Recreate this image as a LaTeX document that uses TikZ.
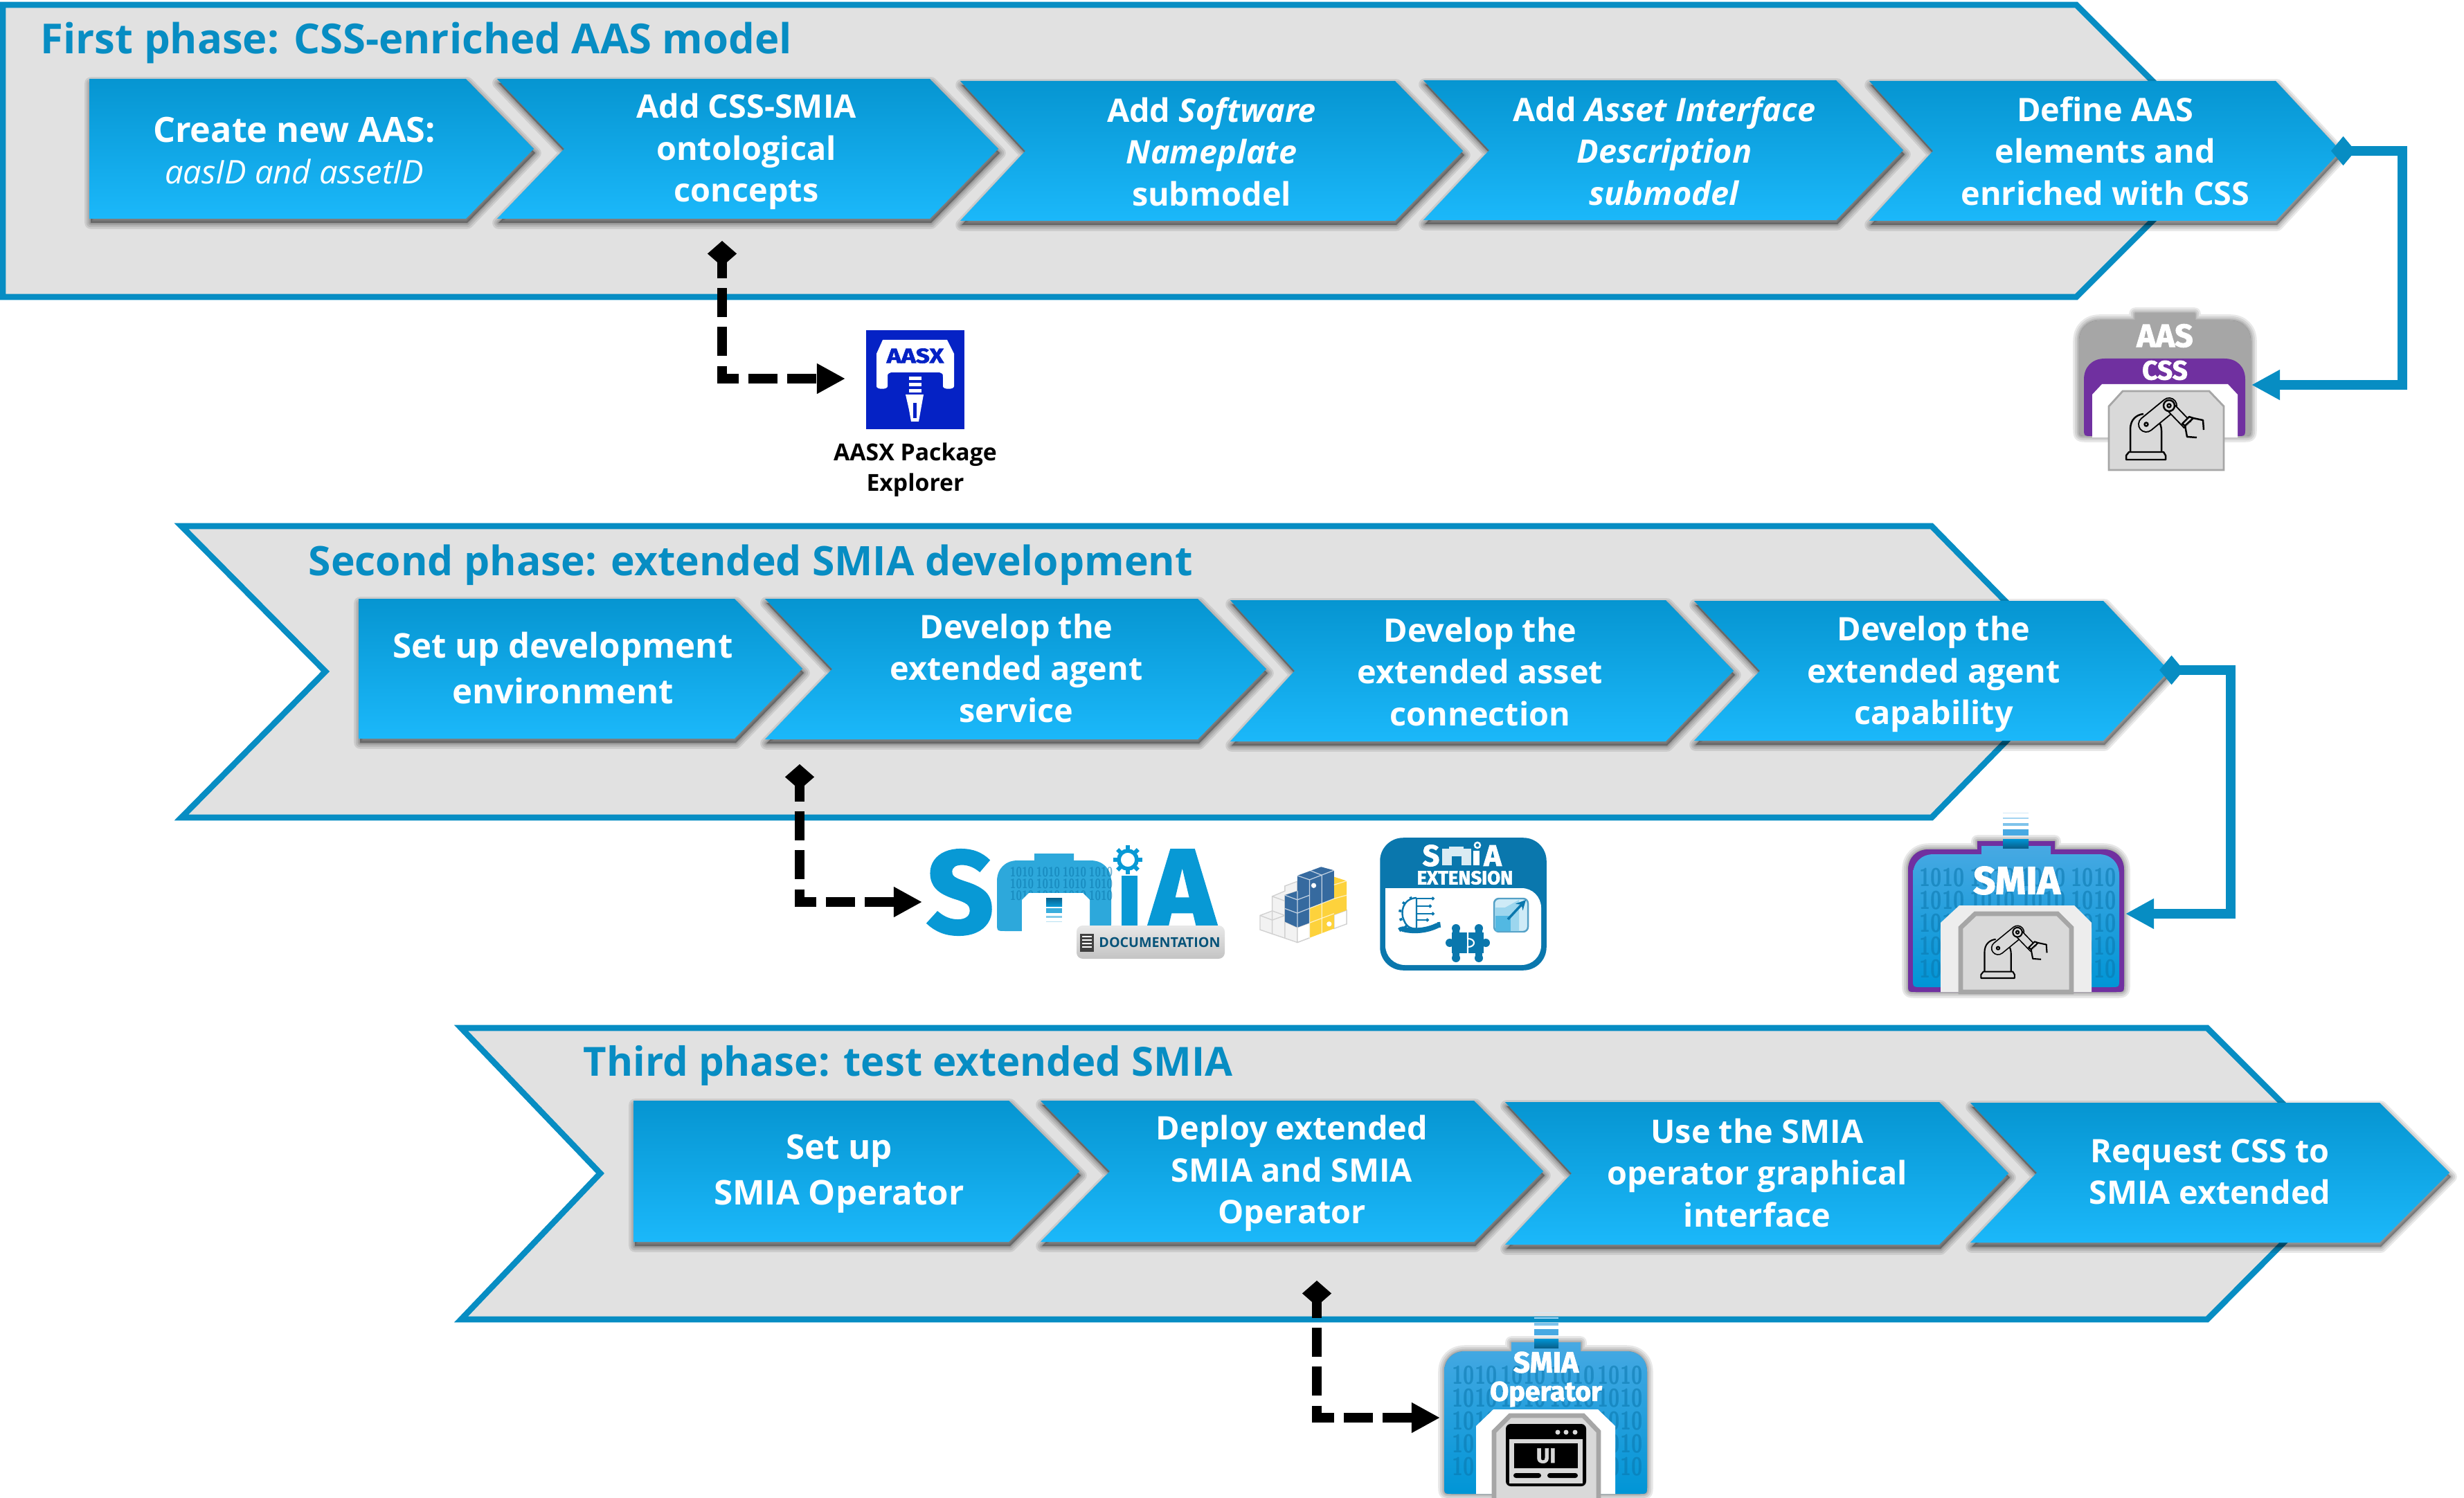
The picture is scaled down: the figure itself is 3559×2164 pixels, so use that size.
\documentclass[tikz,border=0pt]{standalone}
\usepackage{fontspec}
\usepackage{xcolor}
\setmainfont{Open Sans}
\newfontfamily\heavyfont{Fira Sans}[BoldFeatures={FakeBold=2}]
\usetikzlibrary{arrows.meta}

\definecolor{bandblue}{HTML}{078DC3}
\definecolor{phasegray}{HTML}{E1E1E1}
\definecolor{steptop}{HTML}{0695D1}
\definecolor{stepmid}{HTML}{07A6E6}
\definecolor{stepbot}{HTML}{1BB8FA}
\definecolor{cardtop}{HTML}{47A9E3}
\definecolor{cardbot}{HTML}{0095D6}
\definecolor{purplecss}{HTML}{7030A0}
\definecolor{chipgray}{HTML}{D9D9D9}
\definecolor{chipline}{HTML}{A6A6A6}
\definecolor{logoblue}{HTML}{0899D5}
\definecolor{extblue}{HTML}{0A77AD}
\definecolor{aasxblue}{HTML}{0522C5}
\definecolor{pyblue}{HTML}{366A9F}
\definecolor{pyyellow}{HTML}{FDD23C}

\tikzset{
  phaseband/.style={draw=bandblue,fill=phasegray,line width=2.45pt,miter limit=8},
  phasetitle/.style={text=bandblue,font=\fontsize{16.7}{20}\selectfont\bfseries,anchor=west,inner sep=0pt},
  steptext/.style={text=white,font=\fontsize{13.3}{17.2}\selectfont\bfseries,align=center,inner sep=0pt},
  flowlink/.style={draw=bandblue,line width=4pt,{Diamond[length=10pt,width=12pt]}-{Triangle[length=11.7pt,width=11.7pt]}},
  toollink/.style={draw=black,line width=4pt,dash pattern=on 12pt off 4pt,dash phase=4.5pt,{Diamond[length=10.5pt,width=12pt]}-{Triangle[length=11.7pt,width=11.7pt]}},
  bits/.style={text=extblue,text opacity=.55,font=\sffamily\bfseries\fontsize{10.5}{12}\selectfont,inner sep=0pt,xscale=.8,transform shape},
  cardtext/.style={text=white,font=\heavyfont\bfseries,inner sep=0pt},
}

% blurred shadow from stacked strokes
\newcommand{\softshadow}[3]{%
  \foreach \w in {5,3.5,2,1}{%
    \draw[black,fill=black,opacity=.09,line width=\w pt,line join=round,shift={(#1,#2)}] #3;
  }%
}
% start, notch, shoulder, tip, top, bottom
\newcommand{\stepblock}[6]{%
  \def\blockpath{(#1,#5) -- (#3,#5) -- (#4,{(#5+#6)/2}) -- (#3,#6) -- (#1,#6) -- (#2,{(#5+#6)/2}) -- cycle}%
  \softshadow{2}{6}{\blockpath}%
  \shade[top color=steptop,middle color=stepmid,bottom color=stepbot] \blockpath;
}
% left, top, right, bottom, tab left, tab right, tab top
\newcommand{\cardpath}[7]{({#1},{#2+30}) .. controls ({#1},{#2+12}) and ({#1+12},{#2}) .. ({#1+30},{#2}) -- (#5,#2) -- (#5,#7) -- (#6,#7) -- (#6,#2) -- ({#3-30},{#2}) .. controls ({#3-12},{#2}) and ({#3},{#2+12}) .. ({#3},{#2+30}) -- ({#3},{#4-12}) .. controls ({#3},{#4}) .. ({#3-12},{#4}) -- ({#1+12},{#4}) .. controls ({#1},{#4}) .. ({#1},{#4-12}) -- cycle}
% x, y of the foot, size
\newcommand{\robotarm}[3]{%
  \begin{scope}[shift={(#1,#2)},scale=#3,line width=#3*.7pt,line join=round]
    \draw[fill=chipgray] (-29,0) -- (-29,-6) -- (-25,-11) -- (25,-11) -- (28,-6) -- (28,0) -- cycle;
    \draw (-23,-11) -- (-23,-44) .. controls (-23,-58) and (-14,-65) .. (-4,-66);
    \draw (22,-11) -- (22,-42) .. controls (22,-48) and (20,-52) .. (18,-56);
    \draw[line width=#3*24pt*.2845,line cap=round] (0,-51) -- (33,-78);
    \draw[chipgray,line width=#3*20pt*.2845,line cap=round] (0,-51) -- (33,-78);
    \draw[line width=#3*15pt*.2845] (33,-78) -- (60,-50);
    \draw[chipgray,line width=#3*11pt*.2845] (33,-78) -- (60,-50);
    \draw[fill=chipgray] (33,-78) circle (8);
    \draw (33,-78) circle (2.5);
    \draw (0,-51) circle (2.5);
    \draw[fill=chipgray] (56,-49) -- (68,-60) -- (62,-62) -- (52,-52) -- cycle;
    \draw (56,-49) -- (59,-33) -- (73,-32);
    \draw (68,-60) -- (82,-57) -- (83,-43);
  \end{scope}
}
% bits of the SMIA card: columns, first row
\newcommand{\cardbits}[5]{%
  \foreach \r in {0,1,2,3,4}{%
    \foreach \c in {#1,#2,#3,#4}{%
      \node[bits] at (\c,{#5+\r*33}) {1010};
    }
  }
}
\newcommand{\cardstripes}[3]{%
  \shade[top color=cardbot,bottom color=extblue!80!black] (#1,{#3-13}) rectangle (#2,#3);
  \fill[cardtop] (#1,{#3-27}) rectangle (#2,{#3-18});
  \fill[cardtop!70!white] (#1,{#3-36}) rectangle (#2,{#3-32});
  \fill[cardtop!50!white] (#1,{#3-44}) rectangle (#2,{#3-42});
  \fill[cardtop!25!white] (#1,{#3-51}) rectangle (#2,{#3-50});
}

\begin{document}
\begin{tikzpicture}[x=0.01cm,y=-0.01cm]
\useasboundingbox (0,0) rectangle (3559,2164);

% phase one
\draw[phaseband] (4,7) -- (2999,7) -- (3210,218) -- (2999,429) -- (4,429) -- cycle;
\node[phasetitle,font=\fontsize{17}{20}\selectfont\bfseries] (titleone) at (58,62) {First phase: CSS-enriched AAS model};
\stepblock{129}{129}{673}{771}{114}{316}
\stepblock{718}{815}{1343}{1442}{114}{316}
\stepblock{1387}{1481}{2015}{2113}{117}{319}
\stepblock{2056}{2151}{2652}{2749}{116}{318}
\stepblock{2700}{2792}{3287}{3381}{117}{319}
\node[steptext,font=\fontsize{14.3}{17}\selectfont\bfseries] (newaas) at (425,188) {Create new AAS:};
\node[steptext,font=\fontsize{13.4}{15}\selectfont\itshape] (newids) at (425,248) {aasID and assetID};
\node[steptext] (addcss) at (1078,219) {Add CSS-SMIA\\ontological\\concepts};
\node[steptext] (addname) at (1750,219) {Add \textit{Software}\\\textit{Nameplate}\\submodel};
\node[steptext] (addasset) at (2404,218) {Add \textit{Asset Interface}\\\textit{Description}\\\textit{submodel}};
\node[steptext] (definecss) at (3041,218) {Define AAS\\elements and\\enriched with CSS};
\coordinate (defineout) at (3367,218);
\coordinate (aasturn) at (3470,556);
\coordinate (aasin) at (3252,556);
\coordinate (cssout) at (1043,348);
\coordinate (aasxin) at (1221,547);

% AASX tool
\fill[aasxblue] (1251,477) rectangle (1393,620);
\fill[white] (1275,491) -- (1368,491) -- (1378,511) -- (1378,558) .. controls (1378,563) and (1362,563) .. (1362,558) -- (1362,545) .. controls (1362,540) .. (1357,538) -- (1287,538) .. controls (1282,540) .. (1282,545) -- (1282,558) .. controls (1282,563) and (1266,563) .. (1266,558) -- (1266,511) -- cycle;
\node[text=aasxblue,font=\heavyfont\bfseries\fontsize{8.4}{10}\selectfont,inner sep=0pt,xscale=1.2,transform shape] (aasxmark) at (1322,514) {AASX};
\foreach \y in {544,553,562}{
  \fill[white] (1313,\y) rectangle (1331,{\y+5});
}
\fill[white] (1308,570) -- (1334,570) -- (1330,592) -- (1327,609) -- (1316,609) -- (1313,592) -- cycle;
\fill[aasxblue] (1319,582) rectangle (1324,604);
\node[font=\fontsize{9.6}{12.6}\selectfont\bfseries,align=center,inner sep=0pt] (aasxlabel) at (1322,679) {AASX Package\\Explorer};

% CSS enriched AAS
\softshadow{0}{0}{\cardpath{3003}{463}{3251}{630}{3084}{3170}{453}}
\fill[chipline] \cardpath{3003}{463}{3251}{630}{3084}{3170}{453};
\fill[purplecss] \cardpath{3010}{518}{3243}{630}{3100}{3153}{518};
\fill[white] (3022,632) -- (3022,570) -- (3036,555) -- (3218,555) -- (3232,570) -- (3232,632) -- cycle;
\draw[fill=chipgray,draw=chipline,line width=.8pt] (3046,679) -- (3046,587) -- (3066,565) -- (3191,565) -- (3212,587) -- (3212,679) -- cycle;
\robotarm{3100}{664}{1}
\node[cardtext,font=\heavyfont\bfseries\fontsize{13.2}{14}\selectfont] (aasname) at (3127,485) {AAS};
\node[cardtext,font=\heavyfont\bfseries\fontsize{11}{12}\selectfont] (cssname) at (3127,535) {CSS};
\draw[flowlink] (defineout) -| (aasturn) -- (aasin);
\draw[toollink] (cssout) |- (aasxin);

% phase two
\draw[phaseband] (262,760) -- (2790,760) -- (2996,970) -- (2790,1181) -- (262,1181) -- (470,970) -- cycle;
\node[phasetitle] (titletwo) at (445,816) {Second phase: extended SMIA development};
\stepblock{518}{518}{1061}{1159}{865}{1067}
\stepblock{1105}{1202}{1730}{1829}{865}{1068}
\stepblock{1777}{1870}{2406}{2504}{867}{1071}
\stepblock{2447}{2542}{3038}{3133}{868}{1070}
\node[steptext,font=\fontsize{14}{18.8}\selectfont\bfseries] (setupdev) at (813,965) {Set up development\\environment};
\node[steptext] (devservice) at (1468,965) {Develop the\\extended agent\\service};
\node[steptext] (devasset) at (2138,970) {Develop the\\extended asset\\connection};
\node[steptext] (devcap) at (2793,974) {Develop the\\extended agent\\capability};
\coordinate (capout) at (3119,968);
\coordinate (smiaturn) at (3222,1320);
\coordinate (smiain) at (3070,1320);
\coordinate (serviceout) at (1155,1104);
\coordinate (docin) at (1332,1303);

% SMIA logo with documentation
\node[text=logoblue,font=\heavyfont\bfseries\fontsize{48}{50}\selectfont,inner sep=0pt] (logos) at (1387,1289) {S};
\node[text=logoblue,font=\heavyfont\bfseries\fontsize{47}{50}\selectfont,inner sep=0pt] (logoa) at (1708,1285) {A};
\fill[logoblue] (1620,1265) rectangle (1643,1337);
\fill[logoblue!85!white] \cardpath{1440}{1243}{1605}{1345}{1494}{1551}{1233};
\foreach \r in {0,1,2}{
  \foreach \c in {1476,1514,1552,1590}{
    \node[bits,font=\sffamily\bfseries\fontsize{5.5}{6}\selectfont] at (\c,{1260+\r*17}) {1010};
  }
}
\fill[white] (1476,1346) -- (1476,1300) -- (1486,1290) -- (1564,1290) -- (1574,1300) -- (1574,1346) -- cycle;
\shade[top color=extblue!80!black,bottom color=logoblue] (1511,1297) rectangle (1534,1309);
\fill[logoblue!80!white] (1511,1312) rectangle (1534,1319);
\fill[logoblue!50!white] (1511,1323) rectangle (1534,1326);
\fill[logoblue!30!white] (1511,1331) rectangle (1534,1332);
\draw[logoblue,line width=1.6pt] (1629,1242) circle (13);
\foreach \a in {0,45,...,315}{
  \draw[logoblue,line width=1.7pt] (1629,1242) ++(\a:15) -- ++(\a:6);
}
\shade[top color=chipgray!60!white,bottom color=chipgray!90!black,rounded corners=2.5pt] (1555,1337) rectangle (1769,1385);
\node[text=extblue!70!black,font=\fontsize{5.6}{7}\selectfont\bfseries,inner sep=0pt] (docname) at (1675,1361) {DOCUMENTATION};
\fill[black!75] (1560,1349) rectangle (1580,1375);
\foreach \y in {1353,1358,1363,1368}{
  \draw[white,line width=.5pt] (1563,\y) -- (1577,\y);
}

% python cubes
\begin{scope}[shift={(1800,1200)},x=0.00333cm,y=-0.00333cm]
\draw[fill=black!5,draw=black!18,line width=.4pt] (60,368) -- (113,348) -- (113,285) -- (168,262) -- (168,240) -- (222,220) -- (222,262) -- (168,280) -- (168,395) -- (222,420) -- (275,400) -- (275,465) -- (222,485) -- (60,430) -- cycle;
\draw[draw=black!18,line width=.4pt] (113,348) -- (168,368) (113,348) -- (113,450) (168,395) -- (168,468) (60,368) -- (113,388) -- (168,368) (113,285) -- (168,305) (222,420) -- (222,485);
\fill[white] (222,420) -- (275,400) -- (275,465) -- (222,485) -- cycle;
\draw[draw=black!18,line width=.4pt] (222,420) -- (275,400) -- (275,465) -- (222,485) -- cycle;
\draw[fill=white,draw=black!18,line width=.4pt] (381,365) -- (436,345) -- (436,405) -- (381,425) -- cycle;
\fill[pyyellow] (381,200) -- (436,218) -- (436,345) -- (381,365) -- (381,425) -- (275,465) -- (275,335) -- (381,295) -- cycle;
\fill[pyblue] (222,195) -- (325,157) -- (381,172) -- (381,295) -- (275,335) -- (275,400) -- (222,420) -- (168,395) -- (168,280) -- (222,262) -- cycle;
\draw[white,line width=.35pt,opacity=.7] (222,195) -- (275,213) -- (381,172) (275,213) -- (275,335) (328,193) -- (328,315) (275,172) -- (328,193) (222,262) -- (222,420) (168,280) -- (222,300) -- (275,280) (168,338) -- (222,358) -- (381,295) (222,300) -- (222,358) (275,335) -- (275,465) (328,315) -- (328,445) (275,400) -- (381,360) (381,235) -- (436,218) (381,295) -- (436,280);
\fill[white] (293,238) circle (11);
\fill[white] (360,405) circle (11);
\end{scope}

% SMIA extension card
\draw[fill=extblue,draw=extblue,line width=1pt,rounded corners=9pt] (1995,1212) rectangle (2232,1400);
\fill[white,rounded corners=8pt] (2001,1283) -- (2001,1394) -- (2226,1394) -- (2226,1283) [sharp corners] -- cycle;
\node[text=white,font=\heavyfont\bfseries\fontsize{12.2}{14}\selectfont,inner sep=0pt] (extsmias) at (2067,1236) {S};
\node[text=white,font=\heavyfont\bfseries\fontsize{12.2}{14}\selectfont,inner sep=0pt] (extsmiaa) at (2156,1236) {A};
\fill[white] (2128,1229) rectangle (2137,1250);
\fill[white!85!extblue] (2083,1226) rectangle (2125,1250);
\fill[white!85!extblue] (2093,1223) rectangle (2114,1226);
\fill[extblue] (2097,1237) rectangle (2111,1250);
\draw[white,line width=.7pt] (2134,1221) circle (4);
\node[text=white,font=\heavyfont\bfseries\fontsize{7.8}{9}\selectfont,inner sep=0pt] (extname) at (2116,1268) {EXTENSION};
% wrench and circuit
\draw[extblue,line width=.7pt] (2046,1297) .. controls (2026,1298) and (2022,1318) .. (2028,1330) .. controls (2032,1340) and (2040,1342) .. (2046,1342) (2046,1297) -- (2046,1342);
\foreach \a in {100,130,160,190,220,250}{
  \draw[extblue,line width=1pt] (2046,1320) ++(\a:22) -- ++(\a:4);
}
\foreach \y/\x in {1298/2068,1309/2064,1320/2068,1329/2060}{
  \draw[extblue,line width=.6pt] (2046,\y) -- (\x,\y);
  \draw[extblue,line width=.5pt] (\x,\y) ++(1.5,0) circle (1.5);
}
\draw[extblue,line width=2.2pt,line cap=round] (2026,1342) .. controls (2040,1346) and (2060,1345) .. (2076,1337);
\draw[extblue,line width=1.2pt] (2021,1340) -- (2024,1345) (2078,1332) -- (2079,1340);
% puzzle pieces
\fill[extblue] (2097,1347) rectangle (2119,1377);
\fill[extblue] (2121,1347) rectangle (2143,1377);
\foreach \c in {(2103,1341),(2136,1341),(2103,1384),(2136,1384),(2094,1362),(2146,1362)}{
  \fill[extblue] \c circle (6);
}
\draw[extblue,line width=3pt] (2103,1341) -- (2103,1384) (2136,1341) -- (2136,1384);
\draw[white,line width=.6pt] (2120,1346) -- (2120,1356) .. controls (2132,1356) and (2132,1368) .. (2120,1368) -- (2120,1378);
% growth chart
\draw[fill=logoblue!20!white,draw=extblue!70!white,line width=.7pt,rounded corners=2pt] (2158,1298) rectangle (2207,1346);
\fill[logoblue!40!white] (2160,1311) -- (2174,1311) -- (2194,1300) -- (2194,1345) -- (2160,1345) -- cycle;
\fill[logoblue!70!white] (2160,1323) -- (2182,1323) -- (2182,1345) -- (2160,1345) -- cycle;
\draw[-{Stealth[length=4pt,width=4pt]},extblue,line width=1pt] (2178,1328) -- (2204,1300);

% extended SMIA card
\softshadow{0}{0}{\cardpath{2756}{1227}{3068}{1433}{2856}{2968}{1215}}
\fill[purplecss] \cardpath{2756}{1227}{3068}{1433}{2856}{2968}{1215};
\shade[top color=cardtop,bottom color=cardbot] \cardpath{2763}{1234}{3061}{1426}{2862}{2962}{1222};
\cardbits{2805}{2878}{2951}{3024}{1268}
\cardstripes{2893}{2930}{1225}
\fill[white!93!black] (2803,1433) -- (2803,1333) -- (2830,1308) -- (2996,1308) -- (3021,1333) -- (3021,1433) -- cycle;
\draw[fill=chipgray,draw=chipline,line width=1.9pt] (2832,1433) -- (2832,1340) -- (2853,1320) -- (2972,1320) -- (2992,1340) -- (2992,1433) -- cycle;
\robotarm{2886}{1413}{.85}
\node[cardtext,font=\heavyfont\bfseries\fontsize{16}{18}\selectfont] (smianame) at (2913,1272) {SMIA};
\draw[flowlink] (capout) -| (smiaturn) -- (smiain);
\draw[toollink] (serviceout) |- (docin);

% phase three
\draw[phaseband] (666,1485) -- (3188,1485) -- (3398,1695) -- (3188,1906) -- (666,1906) -- (867,1695) -- cycle;
\node[phasetitle,font=\fontsize{16.5}{20}\selectfont\bfseries] (titlethree) at (842,1539) {Third phase: test extended SMIA};
\stepblock{915}{915}{1457}{1559}{1590}{1794}
\stepblock{1503}{1603}{2129}{2229}{1590}{1794}
\stepblock{2174}{2270}{2801}{2901}{1592}{1798}
\stepblock{2846}{2942}{3437}{3538}{1593}{1795}
\node[steptext,font=\fontsize{14}{18.8}\selectfont\bfseries] (setupop) at (1212,1696) {Set up\\SMIA Operator};
\node[steptext] (deployop) at (1866,1695) {Deploy extended\\SMIA and SMIA\\Operator};
\node[steptext] (usegui) at (2538,1694) {Use the SMIA\\operator graphical\\interface};
\node[steptext] (requestcss) at (3192,1693) {Request CSS to\\SMIA extended};
\coordinate (deployout) at (1902,1850);
\coordinate (opin) at (2080,2048);

% SMIA operator card
\softshadow{0}{0}{\cardpath{2086}{1952}{2379}{2158}{2183}{2283}{1939}}
\shade[top color=cardtop,bottom color=cardbot] \cardpath{2086}{1952}{2379}{2158}{2183}{2283}{1939};
\cardbits{2130}{2200}{2271}{2340}{1987}
\cardstripes{2216}{2251}{1947}
\fill[white] (2132,2158) -- (2132,2060) -- (2157,2036) -- (2308,2036) -- (2333,2060) -- (2333,2158) -- cycle;
\draw[fill=chipgray,draw=chipline,line width=1.9pt] (2158,2170) -- (2158,2068) -- (2181,2045) -- (2287,2045) -- (2309,2068) -- (2309,2170) -- cycle;
\fill[black,rounded corners=2pt] (2175,2057) rectangle (2291,2147);
\fill[chipgray] (2180,2079) rectangle (2286,2143);
\fill[black] (2187,2085) rectangle (2279,2121);
\foreach \x in {2250,2262,2275}{
  \fill[chipgray] (\x,2069) circle (3.5);
}
\node[text=chipgray,font=\heavyfont\bfseries\fontsize{8.5}{10}\selectfont,inner sep=0pt] (uiname) at (2233,2103) {UI};
\fill[black,rounded corners=1pt] (2186,2128) rectangle (2226,2135);
\fill[black,rounded corners=1pt] (2235,2128) rectangle (2279,2135);
\node[cardtext,font=\heavyfont\bfseries\fontsize{12}{14}\selectfont] (opsmia) at (2233,1968) {SMIA};
\node[cardtext,font=\heavyfont\bfseries\fontsize{11.2}{13}\selectfont] (opname) at (2233,2014) {Operator};
\draw[toollink] (deployout) |- (opin);
\end{tikzpicture}
\end{document}
